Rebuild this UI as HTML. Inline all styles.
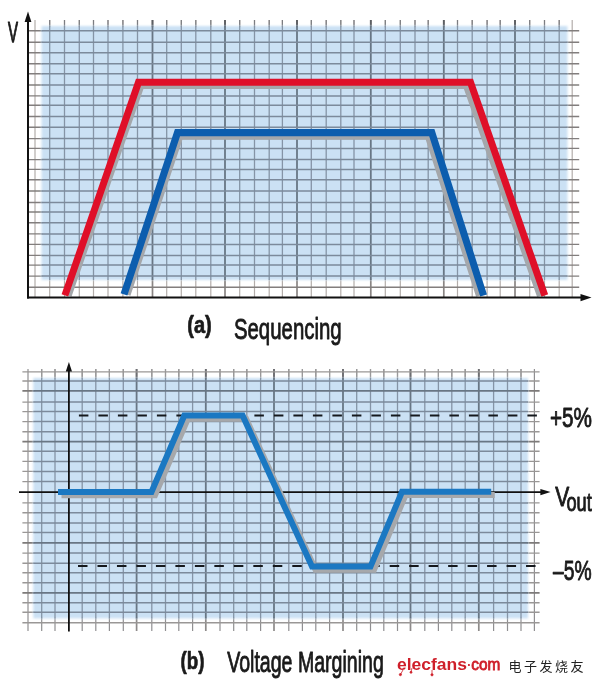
<!DOCTYPE html>
<html><head><meta charset="utf-8"><title>Sequencing and Voltage Margining</title>
<style>
html,body{margin:0;padding:0;background:#fff;}
body{width:600px;height:685px;overflow:hidden;}
svg{display:block;}
text{font-family:"Liberation Sans",sans-serif;fill:#1a1a1a;}
.lbl{stroke:#1a1a1a;stroke-width:0.9px;stroke-linejoin:round;}
.bld{stroke:#1a1a1a;stroke-width:0.7px;stroke-linejoin:round;}
.cjk{font-family:"Liberation Sans","Noto Sans CJK SC",sans-serif;}
.vo{stroke:#b3adaa;stroke-width:1.2;}
.ho{stroke:#827e7d;stroke-width:1.4;}
.vi{stroke:#8594a6;stroke-width:1.3;}
.vm{stroke:#687684;stroke-width:1.8;}
.hi{stroke:#7b8a9b;stroke-width:1.5;}
.hm{stroke:#687684;stroke-width:1.7;}
.vmo{stroke:#8a8584;stroke-width:1.7;}
.hmo{stroke:#7a7675;stroke-width:1.6;}
.vt{stroke:#7c7d81;stroke-width:1.2;}
.vmt{stroke:#5c5e63;stroke-width:1.8;}
.vob{stroke:#908f91;stroke-width:1.2;}
.hob{stroke:#9a9796;stroke-width:1.4;}
.vmob{stroke:#8e8b8a;stroke-width:1.7;}
.hmob{stroke:#7d7a79;stroke-width:1.6;}
.vtb{stroke:#9a999a;stroke-width:1.2;}
.vmtb{stroke:#6d6e72;stroke-width:1.8;}
</style></head><body>
<svg width="600" height="685" viewBox="0 0 600 685">
<defs>
<filter id="soft" x="-5%" y="-5%" width="110%" height="110%"><feGaussianBlur stdDeviation="0.85"/></filter>
<filter id="soft2" x="-2%" y="-2%" width="104%" height="104%"><feGaussianBlur stdDeviation="0.35"/></filter>
<clipPath id="clipA"><rect x="41.5" y="26" width="526" height="254"/></clipPath>
<clipPath id="clipB"><rect x="33.3" y="378" width="494.7" height="240.4"/></clipPath>
</defs>
<rect x="0" y="0" width="600" height="685" fill="#ffffff"/>

<g id="chart-a">
<g class="grid-out" filter="url(#soft2)">
<line class="vo" x1="35" y1="20" x2="35" y2="297.5"/>
<line class="vo" x1="49.7" y1="20" x2="49.7" y2="297.5"/>
<line class="vt" x1="49.7" y1="20" x2="49.7" y2="27"/>
<line class="vo" x1="64.5" y1="20" x2="64.5" y2="297.5"/>
<line class="vt" x1="64.5" y1="20" x2="64.5" y2="27"/>
<line class="vo" x1="79.3" y1="20" x2="79.3" y2="297.5"/>
<line class="vt" x1="79.3" y1="20" x2="79.3" y2="27"/>
<line class="vo" x1="93.5" y1="20" x2="93.5" y2="297.5"/>
<line class="vt" x1="93.5" y1="20" x2="93.5" y2="27"/>
<line class="vo" x1="108" y1="20" x2="108" y2="297.5"/>
<line class="vt" x1="108" y1="20" x2="108" y2="27"/>
<line class="vo" x1="122.9" y1="20" x2="122.9" y2="297.5"/>
<line class="vt" x1="122.9" y1="20" x2="122.9" y2="27"/>
<line class="vo" x1="137.5" y1="20" x2="137.5" y2="297.5"/>
<line class="vt" x1="137.5" y1="20" x2="137.5" y2="27"/>
<line class="vmo" x1="152.5" y1="20" x2="152.5" y2="297.5"/>
<line class="vmt" x1="152.5" y1="20" x2="152.5" y2="27"/>
<line class="vo" x1="166.7" y1="20" x2="166.7" y2="297.5"/>
<line class="vt" x1="166.7" y1="20" x2="166.7" y2="27"/>
<line class="vo" x1="181.3" y1="20" x2="181.3" y2="297.5"/>
<line class="vt" x1="181.3" y1="20" x2="181.3" y2="27"/>
<line class="vo" x1="195.8" y1="20" x2="195.8" y2="297.5"/>
<line class="vt" x1="195.8" y1="20" x2="195.8" y2="27"/>
<line class="vo" x1="210.8" y1="20" x2="210.8" y2="297.5"/>
<line class="vt" x1="210.8" y1="20" x2="210.8" y2="27"/>
<line class="vmo" x1="225" y1="20" x2="225" y2="297.5"/>
<line class="vmt" x1="225" y1="20" x2="225" y2="27"/>
<line class="vo" x1="239.7" y1="20" x2="239.7" y2="297.5"/>
<line class="vt" x1="239.7" y1="20" x2="239.7" y2="27"/>
<line class="vo" x1="254.5" y1="20" x2="254.5" y2="297.5"/>
<line class="vt" x1="254.5" y1="20" x2="254.5" y2="27"/>
<line class="vo" x1="269.2" y1="20" x2="269.2" y2="297.5"/>
<line class="vt" x1="269.2" y1="20" x2="269.2" y2="27"/>
<line class="vo" x1="282.4" y1="20" x2="282.4" y2="297.5"/>
<line class="vt" x1="282.4" y1="20" x2="282.4" y2="27"/>
<line class="vmo" x1="297" y1="20" x2="297" y2="297.5"/>
<line class="vmt" x1="297" y1="20" x2="297" y2="27"/>
<line class="vo" x1="311.3" y1="20" x2="311.3" y2="297.5"/>
<line class="vt" x1="311.3" y1="20" x2="311.3" y2="27"/>
<line class="vo" x1="326.2" y1="20" x2="326.2" y2="297.5"/>
<line class="vt" x1="326.2" y1="20" x2="326.2" y2="27"/>
<line class="vo" x1="340.8" y1="20" x2="340.8" y2="297.5"/>
<line class="vt" x1="340.8" y1="20" x2="340.8" y2="27"/>
<line class="vo" x1="354" y1="20" x2="354" y2="297.5"/>
<line class="vt" x1="354" y1="20" x2="354" y2="27"/>
<line class="vmo" x1="370.8" y1="20" x2="370.8" y2="297.5"/>
<line class="vmt" x1="370.8" y1="20" x2="370.8" y2="27"/>
<line class="vo" x1="385.3" y1="20" x2="385.3" y2="297.5"/>
<line class="vt" x1="385.3" y1="20" x2="385.3" y2="27"/>
<line class="vo" x1="400.3" y1="20" x2="400.3" y2="297.5"/>
<line class="vt" x1="400.3" y1="20" x2="400.3" y2="27"/>
<line class="vo" x1="415" y1="20" x2="415" y2="297.5"/>
<line class="vt" x1="415" y1="20" x2="415" y2="27"/>
<line class="vo" x1="428.2" y1="20" x2="428.2" y2="297.5"/>
<line class="vt" x1="428.2" y1="20" x2="428.2" y2="27"/>
<line class="vmo" x1="443.8" y1="20" x2="443.8" y2="297.5"/>
<line class="vmt" x1="443.8" y1="20" x2="443.8" y2="27"/>
<line class="vo" x1="457.5" y1="20" x2="457.5" y2="297.5"/>
<line class="vt" x1="457.5" y1="20" x2="457.5" y2="27"/>
<line class="vo" x1="472.2" y1="20" x2="472.2" y2="297.5"/>
<line class="vt" x1="472.2" y1="20" x2="472.2" y2="27"/>
<line class="vo" x1="487.1" y1="20" x2="487.1" y2="297.5"/>
<line class="vt" x1="487.1" y1="20" x2="487.1" y2="27"/>
<line class="vo" x1="500.2" y1="20" x2="500.2" y2="297.5"/>
<line class="vt" x1="500.2" y1="20" x2="500.2" y2="27"/>
<line class="vmo" x1="515" y1="20" x2="515" y2="297.5"/>
<line class="vmt" x1="515" y1="20" x2="515" y2="27"/>
<line class="vo" x1="529.7" y1="20" x2="529.7" y2="297.5"/>
<line class="vt" x1="529.7" y1="20" x2="529.7" y2="27"/>
<line class="vo" x1="544.5" y1="20" x2="544.5" y2="297.5"/>
<line class="vt" x1="544.5" y1="20" x2="544.5" y2="27"/>
<line class="vo" x1="559.2" y1="20" x2="559.2" y2="297.5"/>
<line class="vt" x1="559.2" y1="20" x2="559.2" y2="27"/>
<line class="vo" x1="572.2" y1="20" x2="572.2" y2="297.5"/>
<line class="ho" x1="28" y1="30.7" x2="579.2" y2="30.7"/>
<line class="ho" x1="28" y1="42.2" x2="579.2" y2="42.2"/>
<line class="ho" x1="28" y1="52.8" x2="579.2" y2="52.8"/>
<line class="ho" x1="28" y1="63.8" x2="579.2" y2="63.8"/>
<line class="ho" x1="28" y1="73.7" x2="579.2" y2="73.7"/>
<line class="ho" x1="28" y1="85" x2="579.2" y2="85"/>
<line class="ho" x1="28" y1="95.9" x2="579.2" y2="95.9"/>
<line class="ho" x1="28" y1="105.2" x2="579.2" y2="105.2"/>
<line class="ho" x1="28" y1="116.5" x2="579.2" y2="116.5"/>
<line class="ho" x1="28" y1="127.2" x2="579.2" y2="127.2"/>
<line class="ho" x1="28" y1="138.6" x2="579.2" y2="138.6"/>
<line class="ho" x1="28" y1="148.4" x2="579.2" y2="148.4"/>
<line class="ho" x1="28" y1="159.6" x2="579.2" y2="159.6"/>
<line class="ho" x1="28" y1="169.4" x2="579.2" y2="169.4"/>
<line class="ho" x1="28" y1="179.8" x2="579.2" y2="179.8"/>
<line class="ho" x1="28" y1="191" x2="579.2" y2="191"/>
<line class="ho" x1="28" y1="202.5" x2="579.2" y2="202.5"/>
<line class="ho" x1="28" y1="212" x2="579.2" y2="212"/>
<line class="ho" x1="28" y1="222.8" x2="579.2" y2="222.8"/>
<line class="ho" x1="28" y1="233.9" x2="579.2" y2="233.9"/>
<line class="ho" x1="28" y1="244.4" x2="579.2" y2="244.4"/>
<line class="ho" x1="28" y1="255.4" x2="579.2" y2="255.4"/>
<line class="ho" x1="28" y1="265.1" x2="579.2" y2="265.1"/>
<line class="ho" x1="28" y1="276.1" x2="579.2" y2="276.1"/>
<line class="ho" x1="28" y1="287.2" x2="579.2" y2="287.2"/>
</g>
<rect x="41.5" y="26" width="526" height="254" fill="#cbe1f4" filter="url(#soft)"/>
<g class="grid-in" clip-path="url(#clipA)"><g filter="url(#soft2)">
<line class="vi" x1="35" y1="20" x2="35" y2="297.5"/>
<line class="vi" x1="49.7" y1="20" x2="49.7" y2="297.5"/>
<line class="vi" x1="64.5" y1="20" x2="64.5" y2="297.5"/>
<line class="vi" x1="79.3" y1="20" x2="79.3" y2="297.5"/>
<line class="vi" x1="93.5" y1="20" x2="93.5" y2="297.5"/>
<line class="vi" x1="108" y1="20" x2="108" y2="297.5"/>
<line class="vi" x1="122.9" y1="20" x2="122.9" y2="297.5"/>
<line class="vi" x1="137.5" y1="20" x2="137.5" y2="297.5"/>
<line class="vm" x1="152.5" y1="20" x2="152.5" y2="297.5"/>
<line class="vi" x1="166.7" y1="20" x2="166.7" y2="297.5"/>
<line class="vi" x1="181.3" y1="20" x2="181.3" y2="297.5"/>
<line class="vi" x1="195.8" y1="20" x2="195.8" y2="297.5"/>
<line class="vi" x1="210.8" y1="20" x2="210.8" y2="297.5"/>
<line class="vm" x1="225" y1="20" x2="225" y2="297.5"/>
<line class="vi" x1="239.7" y1="20" x2="239.7" y2="297.5"/>
<line class="vi" x1="254.5" y1="20" x2="254.5" y2="297.5"/>
<line class="vi" x1="269.2" y1="20" x2="269.2" y2="297.5"/>
<line class="vi" x1="282.4" y1="20" x2="282.4" y2="297.5"/>
<line class="vm" x1="297" y1="20" x2="297" y2="297.5"/>
<line class="vi" x1="311.3" y1="20" x2="311.3" y2="297.5"/>
<line class="vi" x1="326.2" y1="20" x2="326.2" y2="297.5"/>
<line class="vi" x1="340.8" y1="20" x2="340.8" y2="297.5"/>
<line class="vi" x1="354" y1="20" x2="354" y2="297.5"/>
<line class="vm" x1="370.8" y1="20" x2="370.8" y2="297.5"/>
<line class="vi" x1="385.3" y1="20" x2="385.3" y2="297.5"/>
<line class="vi" x1="400.3" y1="20" x2="400.3" y2="297.5"/>
<line class="vi" x1="415" y1="20" x2="415" y2="297.5"/>
<line class="vi" x1="428.2" y1="20" x2="428.2" y2="297.5"/>
<line class="vm" x1="443.8" y1="20" x2="443.8" y2="297.5"/>
<line class="vi" x1="457.5" y1="20" x2="457.5" y2="297.5"/>
<line class="vi" x1="472.2" y1="20" x2="472.2" y2="297.5"/>
<line class="vi" x1="487.1" y1="20" x2="487.1" y2="297.5"/>
<line class="vi" x1="500.2" y1="20" x2="500.2" y2="297.5"/>
<line class="vm" x1="515" y1="20" x2="515" y2="297.5"/>
<line class="vi" x1="529.7" y1="20" x2="529.7" y2="297.5"/>
<line class="vi" x1="544.5" y1="20" x2="544.5" y2="297.5"/>
<line class="vi" x1="559.2" y1="20" x2="559.2" y2="297.5"/>
<line class="vi" x1="572.2" y1="20" x2="572.2" y2="297.5"/>
<line class="hi" x1="28" y1="30.7" x2="579.2" y2="30.7"/>
<line class="hi" x1="28" y1="42.2" x2="579.2" y2="42.2"/>
<line class="hi" x1="28" y1="52.8" x2="579.2" y2="52.8"/>
<line class="hi" x1="28" y1="63.8" x2="579.2" y2="63.8"/>
<line class="hi" x1="28" y1="73.7" x2="579.2" y2="73.7"/>
<line class="hi" x1="28" y1="85" x2="579.2" y2="85"/>
<line class="hi" x1="28" y1="95.9" x2="579.2" y2="95.9"/>
<line class="hi" x1="28" y1="105.2" x2="579.2" y2="105.2"/>
<line class="hi" x1="28" y1="116.5" x2="579.2" y2="116.5"/>
<line class="hi" x1="28" y1="127.2" x2="579.2" y2="127.2"/>
<line class="hi" x1="28" y1="138.6" x2="579.2" y2="138.6"/>
<line class="hi" x1="28" y1="148.4" x2="579.2" y2="148.4"/>
<line class="hi" x1="28" y1="159.6" x2="579.2" y2="159.6"/>
<line class="hi" x1="28" y1="169.4" x2="579.2" y2="169.4"/>
<line class="hi" x1="28" y1="179.8" x2="579.2" y2="179.8"/>
<line class="hi" x1="28" y1="191" x2="579.2" y2="191"/>
<line class="hi" x1="28" y1="202.5" x2="579.2" y2="202.5"/>
<line class="hi" x1="28" y1="212" x2="579.2" y2="212"/>
<line class="hi" x1="28" y1="222.8" x2="579.2" y2="222.8"/>
<line class="hi" x1="28" y1="233.9" x2="579.2" y2="233.9"/>
<line class="hi" x1="28" y1="244.4" x2="579.2" y2="244.4"/>
<line class="hi" x1="28" y1="255.4" x2="579.2" y2="255.4"/>
<line class="hi" x1="28" y1="265.1" x2="579.2" y2="265.1"/>
<line class="hi" x1="28" y1="276.1" x2="579.2" y2="276.1"/>
<line class="hi" x1="28" y1="287.2" x2="579.2" y2="287.2"/>
</g></g>
<polyline points="68.2,295.5 140.9,85.5 466.4,85.5 540.4,295.8" fill="none" stroke="#a4a7ab" stroke-width="7" stroke-linejoin="miter"/>
<polyline points="127.1,294.6 179.9,136.2 428.3,136.2 479.4,295.8" fill="none" stroke="#a4a7ab" stroke-width="7" stroke-linejoin="miter"/>
<polyline points="64.9,295.3 138.5,82.3 470.5,82.3 544.8,295.5" fill="none" stroke="#df0f28" stroke-width="7" stroke-linejoin="miter"/>
<polyline points="124,294.4 177.5,132.6 431.8,132.6 483.6,295.5" fill="none" stroke="#0c5dae" stroke-width="7.1" stroke-linejoin="miter"/>
<line x1="28" y1="20" x2="28" y2="298.5" stroke="#111" stroke-width="2"/>
<polygon points="28,11.5 24.6,22 31.4,22" fill="#111"/>
<line x1="27" y1="297.6" x2="583" y2="297.6" stroke="#111" stroke-width="2"/>
<polygon points="591.5,297.6 580.5,293.9 580.5,301.3" fill="#111"/>
<text class="lbl" x="7.9" y="42" font-size="29" textLength="10" style="stroke-width:1.25px" lengthAdjust="spacingAndGlyphs">V</text>
</g>
<text class="bld" x="187.3" y="333.4" font-size="24" font-weight="bold" textLength="24.5" lengthAdjust="spacingAndGlyphs">(a)</text>
<text class="lbl" x="233.9" y="338.6" font-size="29.6" textLength="107.8" lengthAdjust="spacingAndGlyphs">Sequencing</text>
<g id="chart-b">
<g class="grid-out" filter="url(#soft2)">
<line class="vob" x1="28" y1="369" x2="28" y2="631"/>
<line class="vob" x1="41.7" y1="369" x2="41.7" y2="631"/>
<line class="vtb" x1="41.7" y1="369" x2="41.7" y2="379"/>
<line class="vob" x1="55" y1="369" x2="55" y2="631"/>
<line class="vtb" x1="55" y1="369" x2="55" y2="379"/>
<line class="vob" x1="82.2" y1="369" x2="82.2" y2="631"/>
<line class="vtb" x1="82.2" y1="369" x2="82.2" y2="379"/>
<line class="vob" x1="95.8" y1="369" x2="95.8" y2="631"/>
<line class="vtb" x1="95.8" y1="369" x2="95.8" y2="379"/>
<line class="vob" x1="109.4" y1="369" x2="109.4" y2="631"/>
<line class="vtb" x1="109.4" y1="369" x2="109.4" y2="379"/>
<line class="vob" x1="123.3" y1="369" x2="123.3" y2="631"/>
<line class="vtb" x1="123.3" y1="369" x2="123.3" y2="379"/>
<line class="vmob" x1="136.6" y1="369" x2="136.6" y2="631"/>
<line class="vmtb" x1="136.6" y1="369" x2="136.6" y2="379"/>
<line class="vob" x1="151.8" y1="369" x2="151.8" y2="631"/>
<line class="vtb" x1="151.8" y1="369" x2="151.8" y2="379"/>
<line class="vob" x1="165.5" y1="369" x2="165.5" y2="631"/>
<line class="vtb" x1="165.5" y1="369" x2="165.5" y2="379"/>
<line class="vob" x1="178.8" y1="369" x2="178.8" y2="631"/>
<line class="vtb" x1="178.8" y1="369" x2="178.8" y2="379"/>
<line class="vob" x1="192.6" y1="369" x2="192.6" y2="631"/>
<line class="vtb" x1="192.6" y1="369" x2="192.6" y2="379"/>
<line class="vmob" x1="205.8" y1="369" x2="205.8" y2="631"/>
<line class="vmtb" x1="205.8" y1="369" x2="205.8" y2="379"/>
<line class="vob" x1="220" y1="369" x2="220" y2="631"/>
<line class="vtb" x1="220" y1="369" x2="220" y2="379"/>
<line class="vob" x1="233.7" y1="369" x2="233.7" y2="631"/>
<line class="vtb" x1="233.7" y1="369" x2="233.7" y2="379"/>
<line class="vob" x1="246.8" y1="369" x2="246.8" y2="631"/>
<line class="vtb" x1="246.8" y1="369" x2="246.8" y2="379"/>
<line class="vob" x1="260.6" y1="369" x2="260.6" y2="631"/>
<line class="vtb" x1="260.6" y1="369" x2="260.6" y2="379"/>
<line class="vmob" x1="274" y1="369" x2="274" y2="631"/>
<line class="vmtb" x1="274" y1="369" x2="274" y2="379"/>
<line class="vob" x1="288.8" y1="369" x2="288.8" y2="631"/>
<line class="vtb" x1="288.8" y1="369" x2="288.8" y2="379"/>
<line class="vob" x1="302.4" y1="369" x2="302.4" y2="631"/>
<line class="vtb" x1="302.4" y1="369" x2="302.4" y2="379"/>
<line class="vob" x1="315.8" y1="369" x2="315.8" y2="631"/>
<line class="vtb" x1="315.8" y1="369" x2="315.8" y2="379"/>
<line class="vob" x1="329.6" y1="369" x2="329.6" y2="631"/>
<line class="vtb" x1="329.6" y1="369" x2="329.6" y2="379"/>
<line class="vmob" x1="343" y1="369" x2="343" y2="631"/>
<line class="vmtb" x1="343" y1="369" x2="343" y2="379"/>
<line class="vob" x1="356.7" y1="369" x2="356.7" y2="631"/>
<line class="vtb" x1="356.7" y1="369" x2="356.7" y2="379"/>
<line class="vob" x1="370.5" y1="369" x2="370.5" y2="631"/>
<line class="vtb" x1="370.5" y1="369" x2="370.5" y2="379"/>
<line class="vob" x1="383.8" y1="369" x2="383.8" y2="631"/>
<line class="vtb" x1="383.8" y1="369" x2="383.8" y2="379"/>
<line class="vob" x1="397.5" y1="369" x2="397.5" y2="631"/>
<line class="vtb" x1="397.5" y1="369" x2="397.5" y2="379"/>
<line class="vmob" x1="410.5" y1="369" x2="410.5" y2="631"/>
<line class="vmtb" x1="410.5" y1="369" x2="410.5" y2="379"/>
<line class="vob" x1="424.8" y1="369" x2="424.8" y2="631"/>
<line class="vtb" x1="424.8" y1="369" x2="424.8" y2="379"/>
<line class="vob" x1="438.4" y1="369" x2="438.4" y2="631"/>
<line class="vtb" x1="438.4" y1="369" x2="438.4" y2="379"/>
<line class="vob" x1="451.8" y1="369" x2="451.8" y2="631"/>
<line class="vtb" x1="451.8" y1="369" x2="451.8" y2="379"/>
<line class="vob" x1="465.2" y1="369" x2="465.2" y2="631"/>
<line class="vtb" x1="465.2" y1="369" x2="465.2" y2="379"/>
<line class="vmob" x1="478.8" y1="369" x2="478.8" y2="631"/>
<line class="vmtb" x1="478.8" y1="369" x2="478.8" y2="379"/>
<line class="vob" x1="493.6" y1="369" x2="493.6" y2="631"/>
<line class="vtb" x1="493.6" y1="369" x2="493.6" y2="379"/>
<line class="vob" x1="507.5" y1="369" x2="507.5" y2="631"/>
<line class="vtb" x1="507.5" y1="369" x2="507.5" y2="379"/>
<line class="vob" x1="521" y1="369" x2="521" y2="631"/>
<line class="vtb" x1="521" y1="369" x2="521" y2="379"/>
<line class="vob" x1="534.4" y1="369" x2="534.4" y2="631"/>
<line class="hob" x1="22.4" y1="371.9" x2="539.6" y2="371.9"/>
<line class="hob" x1="22.4" y1="381" x2="539.6" y2="381"/>
<line class="hmob" x1="22.4" y1="390.9" x2="539.6" y2="390.9"/>
<line class="hob" x1="22.4" y1="402.1" x2="539.6" y2="402.1"/>
<line class="hob" x1="22.4" y1="411.6" x2="539.6" y2="411.6"/>
<line class="hob" x1="22.4" y1="421.6" x2="539.6" y2="421.6"/>
<line class="hob" x1="22.4" y1="431.8" x2="539.6" y2="431.8"/>
<line class="hmob" x1="22.4" y1="441.6" x2="539.6" y2="441.6"/>
<line class="hob" x1="22.4" y1="451.3" x2="539.6" y2="451.3"/>
<line class="hob" x1="22.4" y1="461.4" x2="539.6" y2="461.4"/>
<line class="hob" x1="22.4" y1="471.4" x2="539.6" y2="471.4"/>
<line class="hob" x1="22.4" y1="481.6" x2="539.6" y2="481.6"/>
<line class="hob" x1="22.4" y1="502.9" x2="539.6" y2="502.9"/>
<line class="hob" x1="22.4" y1="512.7" x2="539.6" y2="512.7"/>
<line class="hob" x1="22.4" y1="522.9" x2="539.6" y2="522.9"/>
<line class="hob" x1="22.4" y1="532.4" x2="539.6" y2="532.4"/>
<line class="hmob" x1="22.4" y1="542.9" x2="539.6" y2="542.9"/>
<line class="hob" x1="22.4" y1="553.1" x2="539.6" y2="553.1"/>
<line class="hob" x1="22.4" y1="563.2" x2="539.6" y2="563.2"/>
<line class="hob" x1="22.4" y1="572.7" x2="539.6" y2="572.7"/>
<line class="hob" x1="22.4" y1="582.7" x2="539.6" y2="582.7"/>
<line class="hmob" x1="22.4" y1="592.9" x2="539.6" y2="592.9"/>
<line class="hob" x1="22.4" y1="602.7" x2="539.6" y2="602.7"/>
<line class="hob" x1="22.4" y1="612.2" x2="539.6" y2="612.2"/>
<line class="hob" x1="22.4" y1="622.8" x2="539.6" y2="622.8"/>
</g>
<rect x="33.3" y="378" width="494.7" height="240.4" fill="#cbe1f4" filter="url(#soft)"/>
<g class="grid-in" clip-path="url(#clipB)"><g filter="url(#soft2)">
<line class="vi" x1="28" y1="369" x2="28" y2="631"/>
<line class="vi" x1="41.7" y1="369" x2="41.7" y2="631"/>
<line class="vi" x1="55" y1="369" x2="55" y2="631"/>
<line class="vi" x1="82.2" y1="369" x2="82.2" y2="631"/>
<line class="vi" x1="95.8" y1="369" x2="95.8" y2="631"/>
<line class="vi" x1="109.4" y1="369" x2="109.4" y2="631"/>
<line class="vi" x1="123.3" y1="369" x2="123.3" y2="631"/>
<line class="vm" x1="136.6" y1="369" x2="136.6" y2="631"/>
<line class="vi" x1="151.8" y1="369" x2="151.8" y2="631"/>
<line class="vi" x1="165.5" y1="369" x2="165.5" y2="631"/>
<line class="vi" x1="178.8" y1="369" x2="178.8" y2="631"/>
<line class="vi" x1="192.6" y1="369" x2="192.6" y2="631"/>
<line class="vm" x1="205.8" y1="369" x2="205.8" y2="631"/>
<line class="vi" x1="220" y1="369" x2="220" y2="631"/>
<line class="vi" x1="233.7" y1="369" x2="233.7" y2="631"/>
<line class="vi" x1="246.8" y1="369" x2="246.8" y2="631"/>
<line class="vi" x1="260.6" y1="369" x2="260.6" y2="631"/>
<line class="vm" x1="274" y1="369" x2="274" y2="631"/>
<line class="vi" x1="288.8" y1="369" x2="288.8" y2="631"/>
<line class="vi" x1="302.4" y1="369" x2="302.4" y2="631"/>
<line class="vi" x1="315.8" y1="369" x2="315.8" y2="631"/>
<line class="vi" x1="329.6" y1="369" x2="329.6" y2="631"/>
<line class="vm" x1="343" y1="369" x2="343" y2="631"/>
<line class="vi" x1="356.7" y1="369" x2="356.7" y2="631"/>
<line class="vi" x1="370.5" y1="369" x2="370.5" y2="631"/>
<line class="vi" x1="383.8" y1="369" x2="383.8" y2="631"/>
<line class="vi" x1="397.5" y1="369" x2="397.5" y2="631"/>
<line class="vm" x1="410.5" y1="369" x2="410.5" y2="631"/>
<line class="vi" x1="424.8" y1="369" x2="424.8" y2="631"/>
<line class="vi" x1="438.4" y1="369" x2="438.4" y2="631"/>
<line class="vi" x1="451.8" y1="369" x2="451.8" y2="631"/>
<line class="vi" x1="465.2" y1="369" x2="465.2" y2="631"/>
<line class="vm" x1="478.8" y1="369" x2="478.8" y2="631"/>
<line class="vi" x1="493.6" y1="369" x2="493.6" y2="631"/>
<line class="vi" x1="507.5" y1="369" x2="507.5" y2="631"/>
<line class="vi" x1="521" y1="369" x2="521" y2="631"/>
<line class="vi" x1="534.4" y1="369" x2="534.4" y2="631"/>
<line class="hi" x1="22.4" y1="371.9" x2="539.6" y2="371.9"/>
<line class="hi" x1="22.4" y1="381" x2="539.6" y2="381"/>
<line class="hm" x1="22.4" y1="390.9" x2="539.6" y2="390.9"/>
<line class="hi" x1="22.4" y1="402.1" x2="539.6" y2="402.1"/>
<line class="hi" x1="22.4" y1="411.6" x2="539.6" y2="411.6"/>
<line class="hi" x1="22.4" y1="421.6" x2="539.6" y2="421.6"/>
<line class="hi" x1="22.4" y1="431.8" x2="539.6" y2="431.8"/>
<line class="hm" x1="22.4" y1="441.6" x2="539.6" y2="441.6"/>
<line class="hi" x1="22.4" y1="451.3" x2="539.6" y2="451.3"/>
<line class="hi" x1="22.4" y1="461.4" x2="539.6" y2="461.4"/>
<line class="hi" x1="22.4" y1="471.4" x2="539.6" y2="471.4"/>
<line class="hi" x1="22.4" y1="481.6" x2="539.6" y2="481.6"/>
<line class="hi" x1="22.4" y1="502.9" x2="539.6" y2="502.9"/>
<line class="hi" x1="22.4" y1="512.7" x2="539.6" y2="512.7"/>
<line class="hi" x1="22.4" y1="522.9" x2="539.6" y2="522.9"/>
<line class="hi" x1="22.4" y1="532.4" x2="539.6" y2="532.4"/>
<line class="hm" x1="22.4" y1="542.9" x2="539.6" y2="542.9"/>
<line class="hi" x1="22.4" y1="553.1" x2="539.6" y2="553.1"/>
<line class="hi" x1="22.4" y1="563.2" x2="539.6" y2="563.2"/>
<line class="hi" x1="22.4" y1="572.7" x2="539.6" y2="572.7"/>
<line class="hi" x1="22.4" y1="582.7" x2="539.6" y2="582.7"/>
<line class="hm" x1="22.4" y1="592.9" x2="539.6" y2="592.9"/>
<line class="hi" x1="22.4" y1="602.7" x2="539.6" y2="602.7"/>
<line class="hi" x1="22.4" y1="612.2" x2="539.6" y2="612.2"/>
<line class="hi" x1="22.4" y1="622.8" x2="539.6" y2="622.8"/>
</g></g>
<line x1="78.9" y1="415.4" x2="538" y2="415.4" stroke="#15181c" stroke-width="2" stroke-dasharray="9.5 10"/>
<line x1="78" y1="566" x2="536" y2="566" stroke="#15181c" stroke-width="2" stroke-dasharray="9.5 9.98"/>
<line x1="68.9" y1="370" x2="68.9" y2="631.6" stroke="#111" stroke-width="1.8"/>
<polygon points="68.9,362 65.8,371.6 72,371.6" fill="#111"/>
<line x1="19" y1="492.1" x2="542" y2="492.1" stroke="#111" stroke-width="1.6"/>
<polygon points="550.6,492.1 540.4,488.9 540.4,495.3" fill="#111"/>
<polyline points="58,492 151.5,492 184.3,415.6 242.6,415.6 312,566.6 370.5,566.6 402,491.8 491.2,491.8" fill="none" stroke="#a6a8ab" stroke-width="6" stroke-linejoin="miter" transform="translate(3.5,3.2)"/>
<polyline points="58,492 151.5,492 184.3,415.6 242.6,415.6 312,566.6 370.5,566.6 402,491.8 491.2,491.8" fill="none" stroke="#1b78c2" stroke-width="6" stroke-linejoin="miter"/>
<text class="lbl" x="550" y="427" font-size="27.5" textLength="42" lengthAdjust="spacingAndGlyphs">+5%</text>
<text class="lbl" x="555.3" y="506" font-size="27.5" textLength="14" lengthAdjust="spacingAndGlyphs">V</text>
<text class="lbl" x="566.5" y="511" font-size="25" textLength="25.3" lengthAdjust="spacingAndGlyphs">out</text>
<text class="lbl" x="553" y="580" font-size="27.5" textLength="38.6" lengthAdjust="spacingAndGlyphs">–5%</text>
</g>
<text class="bld" x="180.4" y="668.6" font-size="24.5" font-weight="bold" textLength="24" lengthAdjust="spacingAndGlyphs">(b)</text>
<text class="lbl" x="227.2" y="672.2" font-size="29.3" textLength="156.6" lengthAdjust="spacingAndGlyphs">Voltage Margining</text>
<g id="logo">
<g stroke="#cf1f2a" stroke-width="0.8" fill="#cf1f2a"><line x1="403" y1="670" x2="400.4" y2="674.6"/><circle cx="400.4" cy="674.6" r="1.1"/><line x1="412" y1="668" x2="411" y2="672"/><circle cx="411" cy="672.3" r="1"/><line x1="432" y1="670" x2="432" y2="674.6"/><circle cx="432" cy="674.8" r="1.1"/></g>
<text x="397" y="670.2" font-size="16.2" style="fill:#cf1f2a"><tspan font-weight="bold" textLength="70" lengthAdjust="spacingAndGlyphs">elecfans</tspan><tspan x="467.2" font-weight="bold" font-size="12" dy="-0.8">·</tspan><tspan x="471.3" dy="0.8" textLength="29" lengthAdjust="spacingAndGlyphs" style="stroke:#cf1f2a;stroke-width:0.8px">com</tspan></text>
<text class="cjk" x="508.5" y="671" font-size="13" textLength="75" lengthAdjust="spacing" style="fill:#222">电子发烧友</text>
</g>
</svg>
</body></html>
